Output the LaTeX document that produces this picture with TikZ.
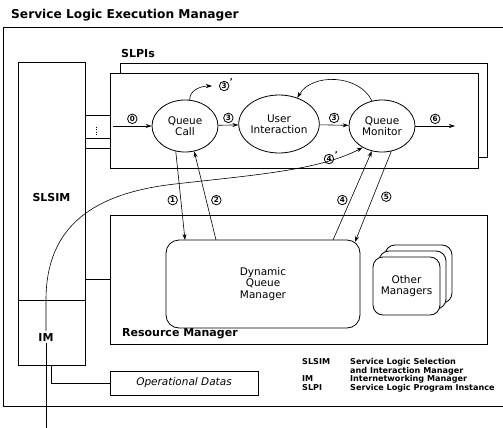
\documentclass[tikz,border=0pt]{standalone}
\usepackage{fontspec}
\setmainfont{DejaVu Sans}
\usetikzlibrary{shapes.geometric, arrows.meta, positioning}

\begin{document}
\begin{tikzpicture}[x=1pt, y=-1pt,
    unit/.style={draw, line width=0.8pt, inner sep=0, fill=white},
    proc/.style={draw, ellipse, line width=0.8pt, minimum width=66, minimum height=52,
                 inner sep=0, align=center, fill=white, font=\fontsize{10.5}{11.5}\selectfont},
    mgr/.style={draw, line width=0.8pt, rounded corners=13, align=center, fill=white,
                font=\fontsize{10.5}{11.5}\selectfont},
    heading/.style={font=\bfseries\fontsize{11}{12}\selectfont, inner sep=0},
    flow/.style={-{Stealth[length=6pt, width=4pt]}, line width=0.6pt},
    num/.style={draw, circle, line width=0.8pt, minimum size=9.5pt, inner sep=0,
                font=\bfseries\fontsize{7.2}{7.2}\selectfont},
    prime/.style={label={[inner sep=0.5pt, font=\bfseries\fontsize{8}{8}\selectfont]5:'}}
]
    \useasboundingbox (0,0) rectangle (503,428);

    % Service Logic Execution Manager
    \node[heading, anchor=west, font=\bfseries\fontsize{12.2}{13}\selectfont] (slemtxt) at (11,15) {Service Logic Execution Manager};
    \draw[line width=1pt] (503,28) -- (3,28) -- (3,406) -- (503,406);

    % SLSIM and IM
    \node[unit, minimum width=67, minimum height=238] (slsim) at (51.5,181) {};
    \node[heading] (slsimtxt) at (51.5,197) {SLSIM};
    \node[unit, minimum width=67, minimum height=65] (im) at (51.5,332.5) {};
    \node[heading, fill=white, inner sep=2pt] (imtxt) at (46,337) {IM};

    % SLPI stack
    \node[unit, minimum width=367, minimum height=94] (slpib) at (303.5,110) {};
    \node[unit, minimum width=368, minimum height=95] (slpi) at (294,120.5) {};
    \node[heading, anchor=west] (slpitxt) at (121,53) {SLPIs};
    \node[unit, minimum width=25, minimum height=23] (stub) at (97.5,126.5) {};
    \node[unit, minimum width=25, minimum height=10] (stubb) at (97.5,143) {};
    \draw[dash pattern=on 1pt off 1.5pt, line width=0.7pt] ([xshift=-1pt, yshift=-12pt]stub.north) -- ([xshift=-1pt, yshift=2pt]stub.south);

    % processes
    \node[proc] (qcall) at (185,126) {Queue\\Call};
    \node[proc, minimum width=68, minimum height=58] (uinter) at (279,124) {User\\Interaction};
    \node[proc] (qmon) at (382,126) {Queue\\Monitor};

    % Resource Manager
    \node[unit, minimum width=377, minimum height=129] (rm) at (298.5,279.5) {};
    \node[heading, anchor=west] (rmtxt) at (122,334) {Resource Manager};
    \node[mgr, minimum width=194, minimum height=88] (dqm) at (263,284) {Dynamic\\Queue\\Manager};
    \node[mgr, minimum width=67, minimum height=58, rounded corners=10] (om3) at (418.5,274) {};
    \node[mgr, minimum width=67, minimum height=58, rounded corners=10] (om2) at (412.5,280) {};
    \node[mgr, minimum width=67, minimum height=58, rounded corners=10] (om) at (406.5,286) {Other\\Managers};

    % Operational Datas
    \node[unit, minimum width=148, minimum height=24, font=\itshape\fontsize{10.5}{12}\selectfont] (opdata) at (184,383) {Operational Datas};

    % free ends
    \coordinate (in0) at (113,126);
    \coordinate (out6) at (455,126);
    \coordinate (alt3) at (212,86);
    \coordinate (d1) at (185,240);
    \coordinate (d2) at (216,240);
    \coordinate (d4) at (333,240);
    \coordinate (d5) at (355,242);
    \coordinate (imout) at (46,428);

    % plain links
    \draw[line width=0.8pt] (slsim.east |- rm.west) -- (rm.west);
    \draw[line width=0.8pt] (im.south) |- (opdata.west);

    % call flow
    \draw[flow] (in0) -- node[num, above=2pt] {0} (qcall);
    \draw[flow] (qcall) -- node[num, above=2pt] {3} (uinter);
    \draw[flow] (uinter) -- node[num, above=2pt] {3} (qmon);
    \draw[flow] (qmon) -- node[num, above=2pt] {6} (out6);
    \draw[flow] (qcall.80) to[out=90, in=180] (alt3);
    \node[num, prime, right=7pt of alt3] (lab3p) {3};
    \draw[flow] (qmon.112) to[out=115, in=60] (uinter.55);

    % resource requests
    \draw[flow] (qcall.250) -- node[num, pos=0.55, left=3pt] {1} (d1);
    \draw[flow] (d2) -- node[num, pos=0.45, right=5pt] {2} (qcall.290);
    \draw[flow] (d4) -- node[num, pos=0.45, left=3pt] {4} (qmon.248);
    \draw[flow] (qmon.290) -- node[num, pos=0.5, right=8pt] {5} (d5);

    % IM notification
    \draw[line width=0.6pt] (imout) -- (imtxt.south);
    \draw[flow] (imtxt.north) -- (46,300) .. controls (46,225) and (95,193) .. (175,184)
        .. controls (255,175) and (320,170) .. (qmon.228);
    \node[num, prime] (lab4p) at (329,159) {4};

    % legend
    \node[anchor=north west, inner sep=0, font=\bfseries\fontsize{8.1}{8.7}\selectfont] (legend) at (302,358) {
        \begin{tabular}{@{}p{48pt}@{}l@{}}
        SLSIM & Service Logic Selection\\
              & and Interaction Manager\\
        IM    & Internetworking Manager\\
        SLPI  & Service Logic Program Instance
        \end{tabular}
    };
\end{tikzpicture}
\end{document}
